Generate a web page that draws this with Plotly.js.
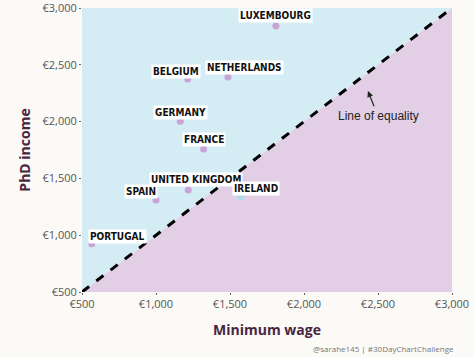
<!DOCTYPE html>
<html><head><meta charset="utf-8">
<script src="https://cdn.plot.ly/plotly-3.0.1.min.js"></script>
<style>html,body{margin:0;padding:0;background:#fcfaf6;}#chart{width:474px;height:357px;}</style>
</head><body><div id="chart"></div>
<script>
const countries = ["LUXEMBOURG","BELGIUM","NETHERLANDS","GERMANY","FRANCE","UNITED KINGDOM","SPAIN","PORTUGAL","IRELAND"];
const minimumWage = [1810, 1214, 1486, 1164, 1322, 1218, 1000, 566, 1572];
const phdIncome   = [2842, 2375, 2393, 2003, 1759, 1398, 1310, 925, 1339];
const tickValues = [500, 1000, 1500, 2000, 2500, 3000];
const tickLabels = ["€500","€1,000","€1,500","€2,000","€2,500","€3,000"];
const axisMin = 500, axisMax = 3000;

// label placement (pixels) – styling only
const labelDx = [0, -12, 17, 0, 0, 8, -15, 26, 15];
const labelDy = [10, 8, 9, 9, 9, 10, 8, 7, 8];

const dotColors = countries.map((c, i) => phdIncome[i] >= minimumWage[i] ? "#c7a3d6" : "#a9dbeb");

const traces = [
  {x:[axisMin, axisMin, axisMax], y:[axisMin, axisMax, axisMax], fill:"toself", fillcolor:"#d4edf4",
   mode:"none", type:"scatter", hoverinfo:"skip", showlegend:false},
  {x:[axisMin, axisMax, axisMax], y:[axisMin, axisMax, axisMin], fill:"toself", fillcolor:"#e2cfe6",
   mode:"none", type:"scatter", hoverinfo:"skip", showlegend:false},
  {x:[axisMin, axisMax], y:[axisMin, axisMax], mode:"lines", type:"scatter",
   line:{color:"#000", width:3, dash:"dash"}, showlegend:false, cliponaxis:false},
  {x:minimumWage, y:phdIncome, mode:"markers", type:"scatter",
   marker:{size:7, color:dotColors}, showlegend:false}
];

const annotations = countries.map((c, i) => ({
  x: minimumWage[i], y: phdIncome[i], text: c, showarrow:false,
  xshift: labelDx[i], yshift: labelDy[i], xanchor:"center", yanchor:"middle",
  bgcolor:"#ffffff", borderpad:1,
  font:{family:"DejaVu Sans Condensed, DejaVu Sans, sans-serif", size:10, color:"#111", weight:700, stretch:"condensed"}
}));
annotations.push({
  x:2432, y:2269, ax:2500, ay:2049, axref:"x", ayref:"y", xref:"x", yref:"y",
  text:"", showarrow:true, arrowhead:2, arrowsize:1, arrowwidth:1.2, arrowcolor:"#222", standoff:0, startstandoff:9
});
annotations.push({
  x:2500, y:2049, text:"Line of equality", showarrow:false, xanchor:"center", yanchor:"middle",
  font:{family:"Liberation Sans, Arial, sans-serif", size:12, color:"#222"}
});
annotations.push({
  xref:"paper", yref:"paper", x:1.01, y:-0.2, xanchor:"right", yanchor:"middle", showarrow:false,
  text:"@sarahe145 | #30DayChartChallenge",
  font:{family:"Open Sans, sans-serif", size:8, color:"#777"}
});

const layout = {
  width:474, height:357,
  margin:{l:82, r:22, t:8, b:65},
  paper_bgcolor:"#fcfaf6", plot_bgcolor:"#fcfaf6",
  xaxis:{range:[axisMin, axisMax], tickvals:tickValues, ticktext:tickLabels, showgrid:false, zeroline:false,
    ticks:"outside", ticklen:2, tickcolor:"#666", showline:false, ticklabeloverflow:"allow",
    tickfont:{family:"Open Sans, sans-serif", size:11, color:"#555"},
    title:{text:"Minimum wage", standoff:14, font:{family:"Open Sans, sans-serif", size:14, color:"#4a2641", weight:700}}},
  yaxis:{range:[axisMin, axisMax], tickvals:tickValues, ticktext:tickLabels, showgrid:false, zeroline:false,
    ticks:"outside", ticklen:2, tickcolor:"#666", showline:false, ticklabeloverflow:"allow",
    tickfont:{family:"Open Sans, sans-serif", size:11, color:"#555"},
    title:{text:"PhD income", standoff:8, font:{family:"Open Sans, sans-serif", size:14, color:"#4a2641", weight:700}}},
  annotations: annotations
};
Plotly.newPlot("chart", traces, layout, {displayModeBar:false, staticPlot:true});
</script></body></html>
